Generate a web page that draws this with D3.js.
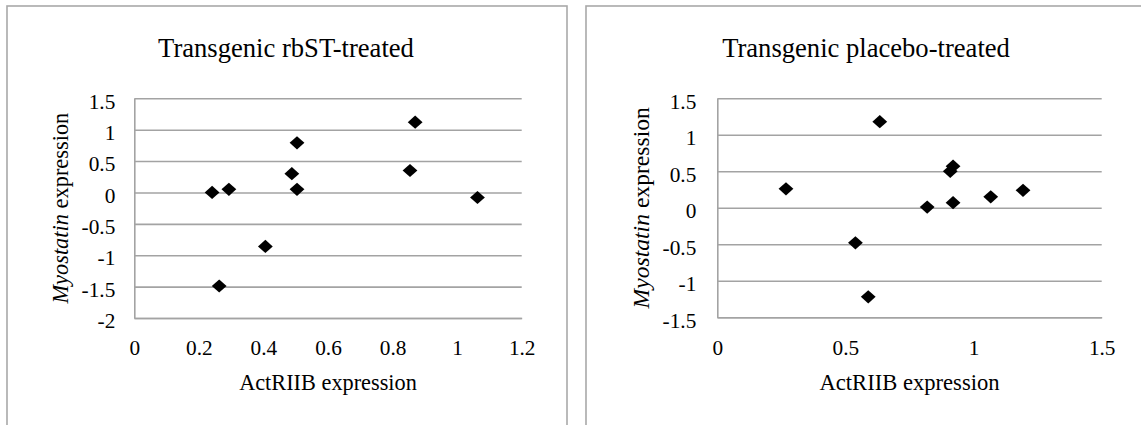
<!DOCTYPE html>
<html>
<head>
<meta charset="utf-8">
<script src="https://cdn.jsdelivr.net/npm/d3@7/dist/d3.min.js"></script>
<style>
  html, body { margin: 0; padding: 0; background: #fff; }
  svg { display: block; }
  svg text { font-family: "Liberation Serif", "Times New Roman", serif !important; fill: #000; }
</style>
</head>
<body>
<svg id="chart" width="1141" height="425"></svg>
<script>
// ---- Data ----
const titles = ["Transgenic rbST-treated", "Transgenic placebo-treated"];
const xAxisTitle = "ActRIIB expression";

const rbstActRIIB   = [0.241, 0.293, 0.504, 0.488, 0.504, 0.870, 0.854, 1.063, 0.406, 0.263];
const rbstMyostatin = [0.00, 0.05, 0.79, 0.30, 0.05, 1.12, 0.35, -0.08, -0.86, -1.49];

const placeboActRIIB   = [0.268, 0.539, 0.589, 0.634, 0.819, 0.909, 0.920, 0.920, 1.067, 1.193];
const placeboMyostatin = [0.26, -0.48, -1.22, 1.18, 0.01, 0.50, 0.57, 0.07, 0.15, 0.24];

const rbstXTicks = [0, 0.2, 0.4, 0.6, 0.8, 1, 1.2];
const rbstYTicks = [-2, -1.5, -1, -0.5, 0, 0.5, 1, 1.5];
const placeboXTicks = [0, 0.5, 1, 1.5];
const placeboYTicks = [-1.5, -1, -0.5, 0, 0.5, 1, 1.5];

// ---- Layout ----
const panels = [
  { title: titles[0], xs: rbstActRIIB, ys: rbstMyostatin, xTicks: rbstXTicks, yTicks: rbstYTicks,
    xDomain: [0, 1.2], yDomain: [-2, 1.5],
    frame: { x: 7, y: 6, w: 560, h: 460 },
    plot: { x0: 134.3, x1: 521.7, y0: 98.3, y1: 318 },
    yLabelGap: 19, yTitleX: 60, yTitleSize: 22.4, xTitleSize: 22.3 },
  { title: titles[1], xs: placeboActRIIB, ys: placeboMyostatin, xTicks: placeboXTicks, yTicks: placeboYTicks,
    xDomain: [0, 1.5], yDomain: [-1.5, 1.5],
    frame: { x: 586, y: 6, w: 562, h: 460 },
    plot: { x0: 717.3, x1: 1101.7, y0: 98.3, y1: 317.3 },
    yLabelGap: 21, yTitleX: 641, yTitleSize: 23.6, xTitleSize: 22.6 }
];

const svg = d3.select("#chart");
const fmt = d => String(d);
const gridColor = "#a3a3a3";
const serif = '"Liberation Serif", "Times New Roman", serif';

panels.forEach(p => {
  const g = svg.append("g");

  // frame
  g.append("rect")
    .attr("x", p.frame.x).attr("y", p.frame.y)
    .attr("width", p.frame.w).attr("height", p.frame.h)
    .attr("fill", "#fff").attr("stroke", "#a9a9a9").attr("stroke-width", 1.6);

  const x = d3.scaleLinear().domain(p.xDomain).range([p.plot.x0, p.plot.x1]);
  const y = d3.scaleLinear().domain(p.yDomain).range([p.plot.y1, p.plot.y0]);
  const w = p.plot.x1 - p.plot.x0;

  // y axis with gridlines
  const yAxis = g.append("g")
    .attr("transform", `translate(${p.plot.x0},0)`)
    .call(d3.axisLeft(y).tickValues(p.yTicks).tickFormat(fmt)
      .tickSizeInner(-w).tickSizeOuter(0).tickPadding(p.yLabelGap));
  yAxis.attr("font-family", null);
  yAxis.select(".domain").attr("stroke", gridColor).attr("stroke-width", 1.6);
  yAxis.selectAll(".tick line").attr("stroke", gridColor).attr("stroke-width", 1.6);
  yAxis.selectAll(".tick text")
    .attr("font-size", 21.3).attr("dy", null)
    .attr("y", 9.7).style("font-family", serif).attr("fill", "#000");

  // x axis
  const xAxis = g.append("g")
    .attr("transform", `translate(0,${p.plot.y1})`)
    .call(d3.axisBottom(x).tickValues(p.xTicks).tickFormat(fmt)
      .tickSizeInner(0).tickSizeOuter(0).tickPadding(0));
  xAxis.attr("font-family", null);
  xAxis.select(".domain").attr("stroke", gridColor).attr("stroke-width", 1.6);
  xAxis.selectAll(".tick text")
    .attr("font-size", 21.3).attr("dy", null)
    .attr("y", 355 - p.plot.y1).style("font-family", serif).attr("fill", "#000");

  // title
  g.append("text")
    .attr("x", p.frame.x + p.frame.w / 2 - 1).attr("y", 56.7)
    .attr("text-anchor", "middle").attr("font-size", 26.6)
    .style("font-family", serif)
    .text(p.title);

  // x axis title
  g.append("text")
    .attr("x", (p.plot.x0 + p.plot.x1) / 2).attr("y", 389.5)
    .attr("text-anchor", "middle").attr("font-size", p.xTitleSize)
    .style("font-family", serif)
    .text(xAxisTitle);

  // y axis title
  const yt = g.append("text")
    .attr("transform", `translate(${p.yTitleX + 8},${(p.plot.y0 + p.plot.y1) / 2}) rotate(-90)`)
    .attr("text-anchor", "middle").attr("font-size", p.yTitleSize)
    .style("font-family", serif);
  yt.append("tspan").attr("font-style", "italic").text("Myostatin");
  yt.append("tspan").text(" expression");

  // markers (diamonds)
  const pts = p.xs.map((v, i) => [v, p.ys[i]]);
  g.append("g").selectAll("path")
    .data(pts).join("path")
    .attr("transform", d => `translate(${x(d[0])},${y(d[1])})`)
    .attr("d", "M0,-6.6L7.4,0L0,6.6L-7.4,0Z")
    .attr("fill", "#000");
});
</script>
</body>
</html>
